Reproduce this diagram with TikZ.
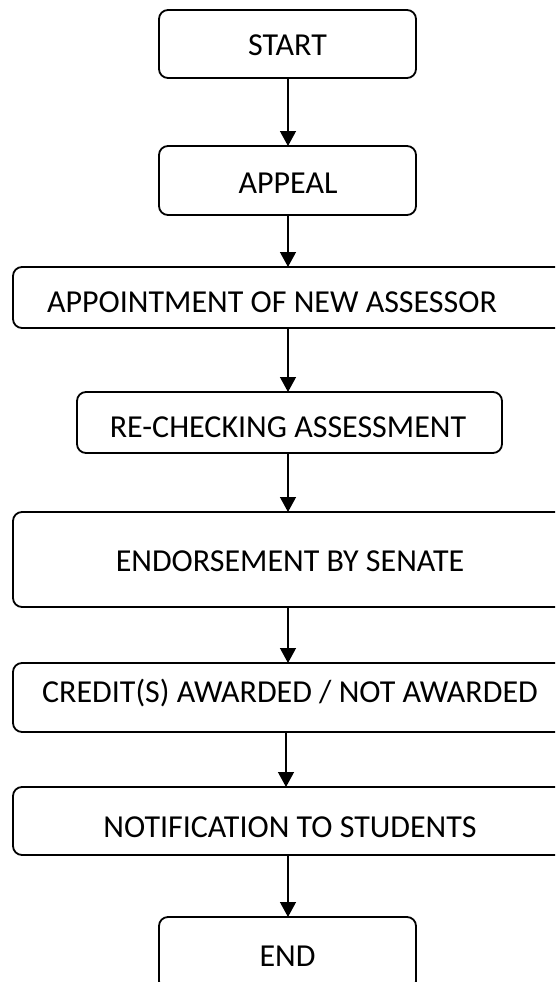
\documentclass[tikz,border=0pt]{standalone}
\usepackage{fontspec}
\setmainfont{Carlito}
\usetikzlibrary{arrows.meta}
\begin{document}
\begin{tikzpicture}[x=1pt,y=-1pt,
  box/.style={draw=black, line width=1.8pt, rounded corners=9pt, inner sep=0pt, outer sep=0pt},
  lbl/.style={font=\fontsize{32}{38}\selectfont, inner sep=0pt, text height=20.6pt, text depth=0pt},
  arr/.style={line width=1.3pt, -{Triangle[width=16pt,length=15pt]}}]
\useasboundingbox (0,0) rectangle (555,982);
\clip (0,0) rectangle (555,982);
\fill[white] (0,0) rectangle (555,982);
% boxes
\node[box, minimum width=257pt, minimum height=68pt] (start) at (287.5,44) {};
\node[box, minimum width=257pt, minimum height=69pt] (appeal) at (287.5,180.5) {};
\node[box, minimum width=557pt, minimum height=61pt] (appoint) at (291.5,297.5) {};
\node[box, minimum width=425pt, minimum height=61pt] (recheck) at (289.5,422.5) {};
\node[box, minimum width=557pt, minimum height=95pt] (endorse) at (291.5,559.5) {};
\node[box, minimum width=557pt, minimum height=69pt] (credit) at (291.5,697.5) {};
\node[box, minimum width=557pt, minimum height=68pt] (notif) at (291.5,821) {};
\node[box, minimum width=257pt, minimum height=73pt] (end) at (287.5,953.5) {};
% labels
\node[lbl] (startt) at (287.5,45) {START};
\node[lbl] (appealt) at (288,183) {APPEAL};
\node[lbl] (appointt) at (272,302.5) {APPOINTMENT OF NEW ASSESSOR};
\node[lbl] (recheckt) at (288,427.5) {RE-CHECKING ASSESSMENT};
\node[lbl] (endorset) at (290,561) {ENDORSEMENT BY SENATE};
\node[lbl] (creditt) at (290,692.5) {CREDIT(S) AWARDED / NOT AWARDED};
\node[lbl] (notift) at (290,827) {NOTIFICATION TO STUDENTS};
\node[lbl] (endt) at (287.5,956) {END};
% connectors
\coordinate (ax) at (288,0);
\coordinate (axb) at (286,0);
\draw[arr] (ax |- start.south) -- (ax |- appeal.north);
\draw[arr] (ax |- appeal.south) -- (ax |- appoint.north);
\draw[arr] (ax |- appoint.south) -- (ax |- recheck.north);
\draw[arr] (ax |- recheck.south) -- (ax |- endorse.north);
\draw[arr] (ax |- endorse.south) -- (ax |- credit.north);
\draw[arr] (axb |- credit.south) -- (axb |- notif.north);
\draw[arr] (ax |- notif.south) -- (ax |- end.north);
\end{tikzpicture}
\end{document}
